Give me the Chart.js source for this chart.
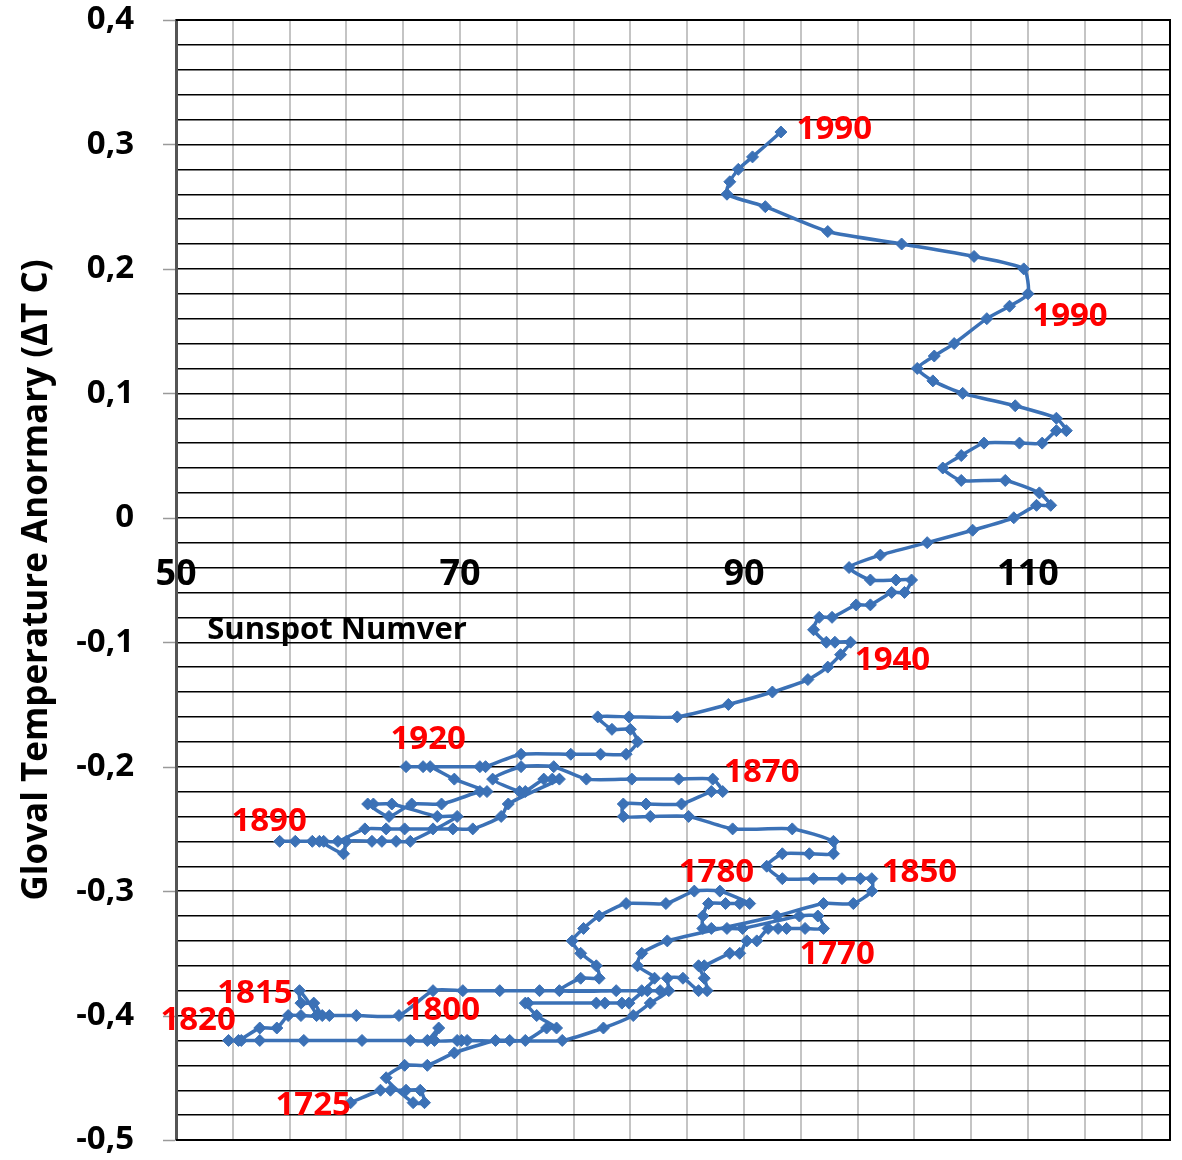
<!DOCTYPE html>
<html><head><meta charset="utf-8">
<script src="https://cdn.jsdelivr.net/npm/chart.js@4/dist/chart.umd.min.js"></script>
<style>html,body{margin:0;padding:0;background:#fff}canvas{display:block}</style>
</head><body>
<canvas id="c" width="1182" height="1160"></canvas>
<script>
// ---- data (path from 1725 to 1990) ----
const sunspot = [
 62.3,64.4,65.1,66.2,67.2,67.5,66.7,64.8,66.1,67.7,69.6,72.5,73.5,77.2,80.1,82.2,83.4,84.7,84.6,85.7,
 86.8,87.4,87.2,86.8,87.2,89.0,89.7,90.2,90.9,91.7,92.4,93.0,94.3,95.6,95.2,93.9,89.9,88.8,87.7,87.1,
 87.1,87.5,88.7,89.7,90.4,88.3,86.5,
 84.5,81.7,79.8,78.7,77.9,78.5,79.6,79.8,78.5,77.0,81.0,82.8,83.2,84.1,75.6,72.8,70.2,68.1,65.7,62.7,
 60.8,60.3,59.7,58.8,58.7,59.9,58.8,57.9,57.1,55.9,54.4,53.7,
 54.6,55.9,59.0,63.1,66.5,67.7,68.5,68.2,69.8,70.1,70.5,74.6,76.1,76.8,75.4,74.6,74.8,79.6,80.2,81.4,
 81.9,83.7,82.5,82.8,84.6,92.3,95.6,97.7,99.0,99.0,
 98.2,96.9,94.9,92.7,91.6,92.7,94.6,96.3,96.3,93.4,89.2,86.1,83.4,81.5,81.5,83.1,85.6,87.7,88.5,87.8,
 85.4,82.1,78.9,76.6,74.3,72.3,74.2,74.6,75.9,76.5,77.0,73.4,72.9,70.9,69.5,68.1,66.1,64.8,63.3,61.4,
 60.4,58.4,57.3,59.6,60.1,61.8,62.0,63.8,64.5,65.5,66.5,69.8,68.4,65.2,63.9,63.5,65.0,66.6,68.7,71.4,
 71.9,69.6,67.9,67.4,66.2,
 71.4,71.8,74.3,77.8,79.9,81.7,82.5,82.0,80.7,79.7,81.9,85.3,88.9,92.0,94.5,95.9,96.8,97.5,96.4,95.8,
 94.9,95.3,96.2,97.9,98.9,100.4,101.3,101.8,100.7,98.9,97.4,99.6,102.9,106.1,109.0,110.6,111.6,110.8,108.4,105.3,
 104.0,105.3,106.9,109.4,111.0,112.0,112.7,112.0,109.1,105.4,103.3,102.2,103.4,104.8,107.1,108.7,110.0,109.7,106.2,101.1,
 95.9,91.5,88.8,89.0,89.6,90.6,92.6
];
const temperature = [
 -0.47,-0.46,-0.46,-0.46,-0.46,-0.47,-0.47,-0.45,-0.44,-0.44,-0.43,-0.42,-0.42,-0.42,-0.41,-0.40,-0.39,-0.38,-0.37,-0.37,
 -0.38,-0.38,-0.37,-0.36,-0.36,-0.35,-0.35,-0.34,-0.34,-0.33,-0.33,-0.33,-0.33,-0.33,-0.32,-0.32,-0.33,-0.33,-0.33,-0.33,
 -0.32,-0.31,-0.31,-0.31,-0.31,-0.30,-0.30,
 -0.31,-0.31,-0.32,-0.33,-0.34,-0.35,-0.36,-0.37,-0.37,-0.38,-0.38,-0.38,-0.38,-0.38,-0.38,-0.38,-0.38,-0.38,-0.40,-0.40,
 -0.40,-0.40,-0.39,-0.39,-0.38,-0.40,-0.40,-0.40,-0.41,-0.41,-0.42,-0.42,
 -0.42,-0.42,-0.42,-0.42,-0.42,-0.42,-0.41,-0.42,-0.42,-0.42,-0.42,-0.42,-0.41,-0.41,-0.40,-0.39,-0.39,-0.39,-0.39,-0.39,
 -0.39,-0.37,-0.36,-0.35,-0.34,-0.32,-0.31,-0.31,-0.30,-0.29,
 -0.29,-0.29,-0.29,-0.29,-0.28,-0.27,-0.27,-0.27,-0.26,-0.25,-0.25,-0.24,-0.24,-0.24,-0.23,-0.23,-0.23,-0.22,-0.22,-0.21,
 -0.21,-0.21,-0.21,-0.20,-0.20,-0.21,-0.22,-0.22,-0.21,-0.21,-0.21,-0.23,-0.24,-0.25,-0.25,-0.25,-0.25,-0.25,-0.25,-0.26,
 -0.26,-0.26,-0.26,-0.26,-0.26,-0.27,-0.26,-0.26,-0.26,-0.26,-0.26,-0.24,-0.24,-0.23,-0.23,-0.23,-0.24,-0.23,-0.23,-0.22,
 -0.22,-0.21,-0.20,-0.20,-0.20,
 -0.20,-0.20,-0.19,-0.19,-0.19,-0.19,-0.18,-0.17,-0.17,-0.16,-0.16,-0.16,-0.15,-0.14,-0.13,-0.12,-0.11,-0.10,-0.10,-0.10,
 -0.09,-0.08,-0.08,-0.07,-0.07,-0.06,-0.06,-0.05,-0.05,-0.05,-0.04,-0.03,-0.02,-0.01,0.00,0.01,0.01,0.02,0.03,0.03,
 0.04,0.05,0.06,0.06,0.06,0.07,0.07,0.08,0.09,0.10,0.11,0.12,0.13,0.14,0.16,0.17,0.18,0.20,0.21,0.22,
 0.23,0.25,0.26,0.27,0.28,0.29,0.31
];

// tick labels
const xTickValues = [50, 70, 90, 110];
const xTickLabels = ['50', '70', '90', '110'];
const yTickValues = [-0.5, -0.4, -0.3, -0.2, -0.1, 0, 0.1, 0.2, 0.3, 0.4];
const yTickLabels = ['-0,5', '-0,4', '-0,3', '-0,2', '-0,1', '0', '0,1', '0,2', '0,3', '0,4'];

// year annotations (text + anchor in data units)
const yearText = ['1990', '1990', '1940', '1920', '1870', '1890', '1780', '1850', '1770', '1815', '1800', '1820', '1725'];
const yearAtX  = [93.7, 110.3, 97.8, 65.1, 88.6, 53.9, 85.4, 99.7, 93.9, 52.9, 66.1, 48.9, 57.0];
const yearAtY  = [0.312, 0.162, -0.115, -0.178, -0.205, -0.244, -0.285, -0.285, -0.351, -0.382, -0.396, -0.404, -0.472];

const xTitle = 'Sunspot Numver';
const xTitleAt = [52.2, -0.09];
const yTitle = 'Gloval Temperature Anormary (\u0394T C)';

// ---- chart ----
const FONT = '"Open Sans", "DejaVu Sans", sans-serif';
const BLUE = '#3b71b6';
const points = sunspot.map((v, i) => ({x: v, y: temperature[i]}));

const frame = {
  id: 'frame',
  beforeDatasetsDraw(chart) {
    const {ctx, chartArea: a, scales: {y}} = chart;
    ctx.save();
    // major tick marks on the value axis
    ctx.strokeStyle = '#9a9a9a';
    ctx.lineWidth = 1.5;
    ctx.beginPath();
    yTickValues.forEach(v => {
      const py = Math.round(y.getPixelForValue(v)) + 0.5;
      ctx.moveTo(a.left - 13, py); ctx.lineTo(a.left - 1, py);
    });
    ctx.stroke();
    // plot frame
    ctx.strokeStyle = '#000';
    ctx.lineWidth = 2;
    ctx.beginPath();
    ctx.moveTo(a.left, a.top); ctx.lineTo(a.right, a.top);
    ctx.lineTo(a.right, a.bottom); ctx.lineTo(a.left, a.bottom);
    ctx.stroke();
    ctx.restore();
  }
};

const annotate = {
  id: 'annotate',
  afterDatasetsDraw(chart) {
    const {ctx, scales: {x, y}} = chart;
    ctx.save();
    ctx.textAlign = 'left';
    ctx.textBaseline = 'middle';
    ctx.font = 'bold 33px ' + FONT;
    ctx.fillStyle = '#ff0000';
    yearText.forEach((t, i) => ctx.fillText(t, x.getPixelForValue(yearAtX[i]), y.getPixelForValue(yearAtY[i])));
    ctx.fillStyle = '#000';
    ctx.font = 'bold 31px ' + FONT;
    ctx.fillText(xTitle, x.getPixelForValue(xTitleAt[0]), y.getPixelForValue(xTitleAt[1]));
    ctx.restore();
  }
};

new Chart(document.getElementById('c'), {
  type: 'scatter',
  data: {
    datasets: [{
      data: points,
      showLine: true,
      borderColor: BLUE,
      backgroundColor: BLUE,
      borderWidth: 3.5,
      tension: 0.2,
      pointStyle: 'rectRot',
      pointRadius: 6,
      pointBorderWidth: 1,
      pointBorderColor: BLUE,
      pointBackgroundColor: BLUE
    }]
  },
  options: {
    responsive: false,
    animation: false,
    devicePixelRatio: 1,
    layout: {padding: {left: 0, right: 12, top: 20, bottom: 20}},
    plugins: {legend: {display: false}, tooltip: {enabled: false}},
    scales: {
      x: {
        type: 'linear',
        position: {y: 0},
        min: 50, max: 120,
        afterBuildTicks(scale) {
          const t = [];
          for (let v = 50; v < 120; v += 4) t.push({value: v});
          scale.ticks = t;
        },
        afterFit(scale) { scale.height = 0; },
        border: {display: false},
        grid: {color: '#c4c4c4', lineWidth: 2, drawTicks: false},
        ticks: {
          autoSkip: false, maxRotation: 0, padding: 35,
          color: '#000',
          font: {family: FONT, weight: 'bold', size: 36},
          callback(v) { const i = xTickValues.indexOf(v); return i >= 0 ? xTickLabels[i] : ''; }
        }
      },
      y: {
        type: 'linear',
        position: 'left',
        min: -0.5, max: 0.4,
        afterBuildTicks(scale) {
          const t = [];
          for (let k = 0; k <= 45; k++) t.push({value: Math.round((-0.5 + k * 0.02) * 100) / 100});
          scale.ticks = t;
        },
        afterFit(scale) { scale.width = 176; },
        border: {display: true, color: '#555', width: 3},
        grid: {color: '#000', lineWidth: 1.4, tickLength: 42, tickColor: 'rgba(0,0,0,0)'},
        ticks: {
          autoSkip: false, padding: 0,
          color: '#000',
          font: {family: FONT, weight: 'bold', size: 33},
          callback(v) { const i = yTickValues.findIndex(t => Math.abs(t - v) < 1e-9); return i >= 0 ? yTickLabels[i] : ''; }
        },
        title: {
          display: true, text: yTitle, color: '#000',
          font: {family: FONT, weight: 'bold', size: 35},
          padding: {top: 16, bottom: 0}
        }
      }
    }
  },
  plugins: [frame, annotate]
});
</script>
</body></html>
